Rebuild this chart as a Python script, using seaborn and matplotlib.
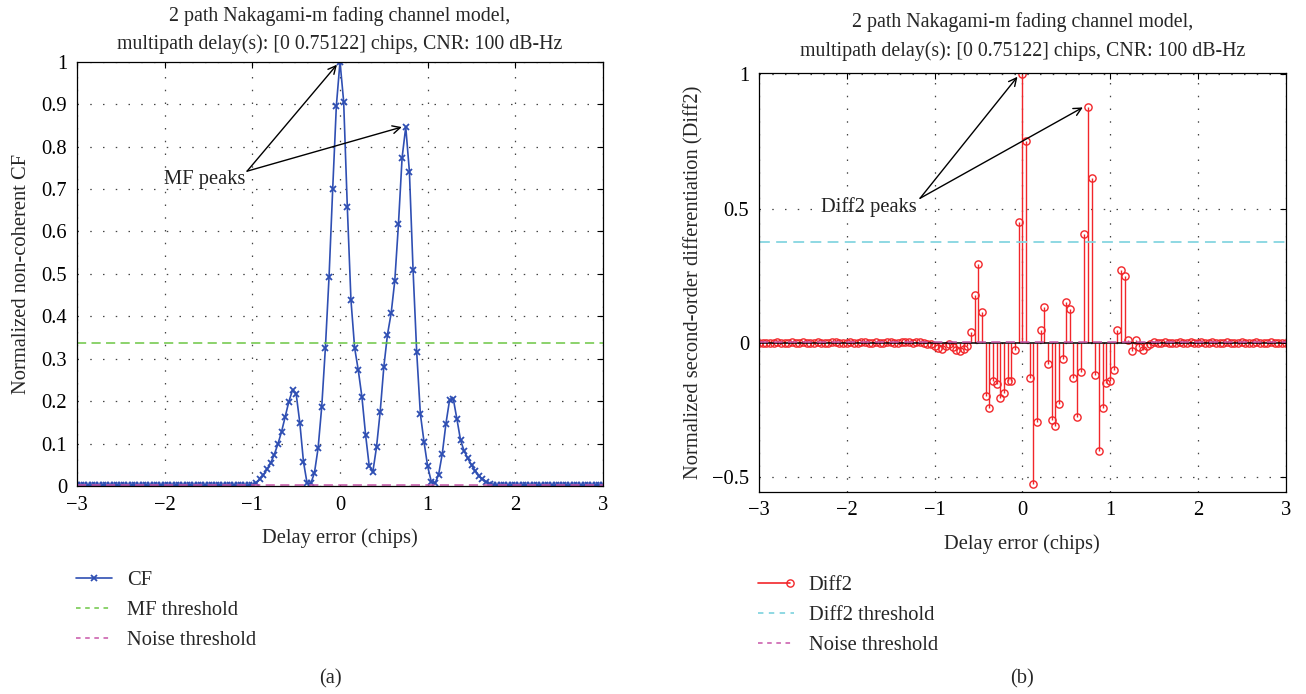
import numpy as np
import matplotlib
matplotlib.use("Agg")
import matplotlib.pyplot as plt
import seaborn as sns
from matplotlib.lines import Line2D
from matplotlib.legend_handler import HandlerBase

# Delay grid: -3 .. 3 chips with 1/24-chip resolution (145 samples)
delay = np.linspace(-3.0, 3.0, 145)

# Normalized non-coherent correlation function (CF)
cf = [
    0.002, 0.002, 0.002, 0.002, 0.002, 0.002, 0.002, 0.002, 0.002, 0.002,
    0.002, 0.002, 0.002, 0.002, 0.002, 0.002, 0.002, 0.002, 0.002, 0.002,
    0.002, 0.002, 0.002, 0.003, 0.002, 0.002, 0.002, 0.002, 0.002, 0.002,
    0.002, 0.002, 0.002, 0.002, 0.002, 0.002, 0.002, 0.002, 0.002, 0.002,
    0.002, 0.002, 0.002, 0.002, 0.002, 0.002, 0.002, 0.002, 0.003,
    0.008, 0.016, 0.026, 0.039, 0.054, 0.074, 0.099, 0.128, 0.163, 0.199,
    0.226, 0.217, 0.149, 0.057, 0.006, 0.006, 0.031, 0.089, 0.187, 0.326,
    0.493, 0.700, 0.896, 1.000, 0.906, 0.658, 0.438, 0.326, 0.273, 0.210,
    0.121, 0.047, 0.034, 0.092, 0.175, 0.281, 0.357, 0.407, 0.484, 0.617,
    0.774, 0.846, 0.741, 0.509, 0.315, 0.170, 0.104, 0.046, 0.010, 0.006,
    0.027, 0.076, 0.147, 0.203, 0.206, 0.158, 0.108, 0.082, 0.065, 0.049,
    0.036, 0.024, 0.016, 0.010, 0.005, 0.003,
    0.002, 0.002, 0.002, 0.002, 0.002, 0.002, 0.002, 0.002, 0.002, 0.002,
    0.002, 0.002, 0.002, 0.002, 0.002, 0.002, 0.002, 0.002, 0.002, 0.002,
    0.002, 0.002, 0.002, 0.002, 0.002, 0.002, 0.002, 0.002, 0.002, 0.002,
]

# Normalized second-order differentiation of the CF (Diff2)
diff2 = [
    0.000, 0.001, 0.000, -0.001, 0.001, 0.002, 0.000, -0.001, 0.001, 0.002,
    0.001, 0.000, 0.002, 0.001, -0.001, 0.000, 0.002, 0.001, 0.000, 0.001,
    0.003, 0.002, 0.000, -0.001, 0.001, 0.002, 0.001, 0.000, 0.002, 0.003,
    0.001, 0.000, 0.002, 0.001, 0.000, 0.002, 0.003, 0.001, 0.000, 0.002,
    0.003, 0.002, 0.001, 0.003, 0.002, 0.000, -0.002,
    -0.004, -0.012, -0.020, -0.022, -0.013, -0.003, -0.014, -0.027, -0.030,
    -0.022, -0.010, 0.041, 0.179, 0.293, 0.115, -0.196, -0.240, -0.143,
    -0.151, -0.205, -0.187, -0.141, -0.140, -0.027, 0.450, 1.000, 0.751,
    -0.130, -0.526, -0.293, 0.048, 0.135, -0.077, -0.288, -0.307, -0.227,
    -0.059, 0.153, 0.125, -0.131, -0.274, -0.109, 0.406, 0.879, 0.613,
    -0.120, -0.400, -0.240, -0.150, -0.140, -0.100, 0.050, 0.270, 0.250,
    0.010, -0.030, 0.010, -0.015, -0.025, -0.012, -0.005,
    0.002, 0.000, 0.001, 0.002, 0.000, -0.001, 0.001, 0.002, 0.000, 0.001,
    0.002, 0.000, 0.001, 0.002, 0.001, 0.000, 0.002, 0.001, 0.000, 0.001,
    0.002, 0.001, 0.000, 0.001, 0.002, 0.001, 0.000, 0.001, 0.002, 0.001,
    0.000, 0.001, 0.002, 0.001, 0.000, 0.001, 0.000,
]

mf_threshold = 0.336
diff2_threshold = 0.374
noise_threshold = 0.002

title_text = ("2 path Nakagami-m fading channel model,\n"
              "multipath delay(s): [0 0.75122] chips, CNR: 100 dB-Hz")
x_label = "Delay error (chips)"
left_ylabel = "Normalized non-coherent CF"
right_ylabel = "Normalized second-order differentiation (Diff2)"
x_ticks = [-3, -2, -1, 0, 1, 2, 3]
left_yticks = [0, 0.1, 0.2, 0.3, 0.4, 0.5, 0.6, 0.7, 0.8, 0.9, 1]
right_yticks = [-0.5, 0, 0.5, 1]

# MF peaks / Diff2 peaks annotation anchors (delay, value)
mf_peak_points = [(-0.035, 0.993), (0.705, 0.846)]
diff2_peak_points = [(-0.055, 0.99), (0.69, 0.876)]

CF_BLUE = "#2f4fb3"
GREEN = "#6cc644"
MAGENTA = "#c855a8"
RED = "#f2262a"
CYAN = "#86d6e0"

sns.set_theme(style="white")
plt.rcParams["font.family"] = ["Liberation Serif", "DejaVu Serif"]
plt.rcParams["axes.unicode_minus"] = True
FS = 14.8
TITLE_FS = 14.3

fig = plt.figure(figsize=(13.06, 6.94), dpi=100)
ax1 = fig.add_axes([0.05896, 0.29971, 0.40276, 0.61138])
ax2 = fig.add_axes([0.58116, 0.29150, 0.40322, 0.60375])

grid_kw = dict(color="#444444", linestyle=(0, (1.2, 9)), linewidth=0.9)


def style_axes(ax, yticks, ylim, title_pad, xlabel_pad):
    ax.set_xlim(-3, 3)
    ax.set_ylim(*ylim)
    ax.set_xticks(x_ticks)
    ax.set_yticks(yticks)
    ax.set_xticklabels([f"{t:g}".replace("-", "\u2212") for t in x_ticks])
    ax.set_yticklabels([f"{t:g}".replace("-", "\u2212") for t in yticks])
    ax.grid(True, **grid_kw)
    ax.set_axisbelow(True)
    for s in ax.spines.values():
        s.set_color("black")
        s.set_linewidth(0.9)
        s.set_visible(True)
    ax.tick_params(direction="in", length=4, width=0.8, top=True, right=True,
                   labelsize=FS, colors="black", pad=7)
    ax.set_xlabel(x_label, fontsize=FS, labelpad=xlabel_pad)
    ax.set_title(title_text, fontsize=TITLE_FS, pad=title_pad,
                 linespacing=1.6)


# ---- (a) correlation function ----
sns.lineplot(x=delay, y=cf, ax=ax1, color=CF_BLUE, linewidth=1.2,
             marker="x", markersize=4.5, markeredgewidth=1.3,
             markeredgecolor=CF_BLUE, label="CF", legend=False)
sns.lineplot(x=[-3, 3], y=[mf_threshold, mf_threshold], ax=ax1, color=GREEN,
             linewidth=1.1, linestyle=(0, (6, 3.5)), label="MF threshold",
             legend=False)
sns.lineplot(x=[-3, 3], y=[noise_threshold, noise_threshold], ax=ax1,
             color=MAGENTA, linewidth=1.1, linestyle=(0, (6, 3.5)),
             label="Noise threshold", legend=False)
style_axes(ax1, left_yticks, (0, 1), title_pad=9, xlabel_pad=10)
ax1.set_ylabel(left_ylabel, fontsize=FS, labelpad=8)

ax1.text(-1.08, 0.722, "MF peaks", fontsize=FS, ha="right", va="center",
         color="#222222")
for tip in mf_peak_points:
    ax1.annotate("", xy=tip, xytext=(-1.06, 0.742),
                 arrowprops=dict(arrowstyle="->", color="black", lw=1.0,
                                 mutation_scale=14, shrinkA=0, shrinkB=0))

# ---- (b) second-order differentiation ----
markers, stems, base = ax2.stem(delay, diff2, basefmt="k-")
plt.setp(stems, color=RED, linewidth=1.0)
plt.setp(markers, marker="o", markersize=5.2, markerfacecolor="none",
         markeredgecolor=RED, markeredgewidth=1.0)
plt.setp(base, color="black", linewidth=1.1)
sns.lineplot(x=[-3, 3], y=[diff2_threshold, diff2_threshold], ax=ax2,
             color=CYAN, linewidth=1.3, linestyle=(0, (6, 3.5)), legend=False)
sns.lineplot(x=[-3, 3], y=[noise_threshold, noise_threshold], ax=ax2,
             color=MAGENTA, linewidth=1.1, linestyle=(0, (6, 3.5)),
             legend=False)
style_axes(ax2, right_yticks, (-0.553, 1.005), title_pad=12, xlabel_pad=10)
ax2.set_ylabel(right_ylabel, fontsize=FS, labelpad=6)

ax2.text(-1.2, 0.505, "Diff2 peaks", fontsize=FS, ha="right", va="center",
         color="#222222")
for tip in diff2_peak_points:
    ax2.annotate("", xy=tip, xytext=(-1.165, 0.538),
                 arrowprops=dict(arrowstyle="->", color="black", lw=1.0,
                                 mutation_scale=14, shrinkA=0, shrinkB=0))


# Legend entry for a stem series: line with an open circle at its end
class StemHandle:
    pass


class StemLegendHandler(HandlerBase):
    def create_artists(self, legend, orig_handle, xdescent, ydescent,
                       width, height, fontsize, trans):
        y = (height - ydescent) / 2.0
        x0, x1 = -xdescent, -xdescent + width
        line = Line2D([x0, x1 - 3], [y, y], color=RED, linewidth=1.2)
        mark = Line2D([x1 - 3], [y], marker="o", markersize=5.2,
                      markerfacecolor="none", markeredgecolor=RED,
                      markeredgewidth=1.0, linestyle="none")
        line.set_transform(trans)
        mark.set_transform(trans)
        return [line, mark]


leg_kw = dict(frameon=False, fontsize=FS, handlelength=1.75,
              handletextpad=0.72, labelspacing=0.5, borderpad=0,
              borderaxespad=0, loc="upper left")

h1 = [Line2D([], [], color=CF_BLUE, linewidth=1.2, marker="x",
             markersize=4.5, markeredgewidth=1.3),
      Line2D([], [], color=GREEN, linewidth=1.1, linestyle=(0, (3, 3))),
      Line2D([], [], color=MAGENTA, linewidth=1.1, linestyle=(0, (3, 3)))]
fig.legend(h1, ["CF", "MF threshold", "Noise threshold"],
           bbox_to_anchor=(76 / 1306, 1 - 571 / 694), **leg_kw)

stem_handle = StemHandle()
h2 = [stem_handle,
      Line2D([], [], color=CYAN, linewidth=1.3, linestyle=(0, (3, 3))),
      Line2D([], [], color=MAGENTA, linewidth=1.1, linestyle=(0, (3, 3)))]
fig.legend(h2, ["Diff2", "Diff2 threshold", "Noise threshold"],
           bbox_to_anchor=(758 / 1306, 1 - 576 / 694),
           handler_map={StemHandle: StemLegendHandler()}, **leg_kw)

fig.text(330 / 1306, 1 - 679 / 694, "(a)", fontsize=FS, ha="center",
         va="center")
fig.text(1022 / 1306, 1 - 679 / 694, "(b)", fontsize=FS, ha="center",
         va="center")

fig.savefig("out.png", dpi=100)
